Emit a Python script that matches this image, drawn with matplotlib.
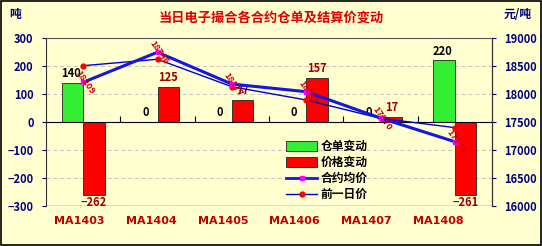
import matplotlib
matplotlib.use("Agg")
import matplotlib.pyplot as plt
import numpy as np
from matplotlib.patches import Rectangle
from matplotlib.lines import Line2D
from matplotlib.patches import Patch
import matplotlib.transforms as mtransforms

plt.rcParams['font.family'] = ['Noto Sans CJK SC', 'DejaVu Sans']

categories = ["MA1403", "MA1404", "MA1405", "MA1406", "MA1407", "MA1408"]
warrant_change = [140, 0, 0, 0, 0, 220]
price_change = [-262, 125, 77, 157, 17, -261]
avg_price = [18209, 18746, 18177, 18041, 17570, 17148]
prev_price = [18505, 18620, 18130, 17893, 17566, 17399]

title = "当日电子撮合各合约仓单及结算价变动"
bg = "#FFFFD0"
navy = "#000080"

fig = plt.figure(figsize=(5.42, 2.46), dpi=100, facecolor=bg)
fig.patches.append(Rectangle((0.002, 0.004), 0.996, 0.992, transform=fig.transFigure,
                             fill=False, edgecolor="black", linewidth=1.2))
ax = fig.add_axes([0.0849, 0.1626, 0.8229, 0.683])
ax.set_facecolor(bg)
x = np.arange(len(categories))
w = 0.29

ax.bar(x - w / 2, warrant_change, w, color="#33EE33", edgecolor="#222222", linewidth=0.6, zorder=2)
ax.bar(x + w / 2, price_change, w, color="#FF0000", edgecolor="#222222", linewidth=0.6, zorder=2)

ax.set_xlim(-0.5, 5.5)
ax.set_ylim(-300, 300)
ax.set_yticks(np.arange(-300, 301, 100))
ax.set_yticklabels([str(v).replace("-", "\u2212") for v in range(-300, 301, 100)])
ax.yaxis.grid(True, linestyle=(0, (4, 3)), color="#C4C4C4", linewidth=0.7)
ax.set_axisbelow(True)
ax.tick_params(axis="y", colors=navy, labelsize=8, length=3, pad=6)
for t in ax.get_yticklabels():
    t.set_fontweight("bold")
    t.set_color(navy)

ax.spines["bottom"].set_position(("data", 0))
ax.spines["bottom"].set_zorder(4)
ax.set_xticks(np.arange(0.5, 5.0, 1.0))
ax.set_xticklabels([])
ax.tick_params(axis="x", direction="in", length=4, width=0.8)
ax.spines["top"].set_color("#555555")
ax.spines["left"].set_color("#333333")

ax.axhline(-300, color="#555555", linewidth=1.0, zorder=3)

# category labels below the plot
trans = mtransforms.blended_transform_factory(ax.transData, ax.transAxes)
for i, c in enumerate(categories):
    ax.text(i * 0.965 - 0.05, -0.09, c, transform=trans, ha="center", va="center",
            color="#C00000", fontsize=8, fontweight="bold", family=["DejaVu Sans"])

# bar labels
for i, v in enumerate(warrant_change):
    ax.text(i - w / 2 - 0.02, v + 10, str(v), ha="center", va="bottom", fontsize=8,
            fontweight="bold", color="black", zorder=5)
for i, v in enumerate(price_change):
    if v >= 0:
        ax.text(i + w / 2, v + 12, str(v), ha="center", va="bottom", fontsize=8,
                fontweight="bold", color="#990000", zorder=5)
    else:
        ax.text(i + w / 2, v - 4, str(v).replace("-", "\u2212"), ha="center", va="top",
                fontsize=8, fontweight="bold", color="#990000", zorder=5)

ax2 = ax.twinx()
ax2.set_ylim(16000, 19000)
ax2.set_yticks(np.arange(16000, 19001, 500))
ax2.tick_params(axis="y", colors=navy, labelsize=8, length=3, pad=6)
for t in ax2.get_yticklabels():
    t.set_fontweight("bold")
ax2.spines["right"].set_color("#333333")
ax2.spines["top"].set_visible(False)
ax2.spines["bottom"].set_visible(False)
ax2.spines["left"].set_visible(False)

ax2.plot(x, prev_price, color="#0000CC", linewidth=1.0, marker="o", markersize=3.5,
         markerfacecolor="#FF0000", markeredgecolor="#FF0000", zorder=3)
ax2.plot(x, avg_price, color="#1515E6", linewidth=2.2, marker="s", markersize=3.5,
         markerfacecolor="#FF00FF", markeredgecolor="#FF00FF", zorder=4)
for i, v in enumerate(avg_price):
    ax2.text(i + 0.02, v - 5, str(v), rotation=-55, ha="center", va="center",
             fontsize=6.5, fontweight="bold", color="#CC0000", fontstyle="italic", zorder=6)

handles = [Patch(facecolor="#33EE33", edgecolor="#222222", linewidth=0.6),
           Patch(facecolor="#FF0000", edgecolor="#222222", linewidth=0.6),
           Line2D([], [], color="#1515E6", linewidth=2, marker="s", markersize=3.5,
                  markerfacecolor="#FF00FF", markeredgecolor="#FF00FF"),
           Line2D([], [], color="#0000CC", linewidth=1, marker="o", markersize=3.5,
                  markerfacecolor="#FF0000", markeredgecolor="#FF0000")]
labels = ["仓单变动", "价格变动", "合约均价", "前一日价"]
leg = ax2.legend(handles, labels, loc="lower left", bbox_to_anchor=(0.52, -0.02),
                 frameon=False, fontsize=8.5, handlelength=2.6, handleheight=0.9,
                 labelspacing=0.25, borderpad=0.2, handletextpad=0.3)
for t in leg.get_texts():
    t.set_fontweight("bold")

fig.text(0.5, 0.93, title, ha="center", va="center", color="#E00000", fontsize=9.5,
         fontweight="bold")
fig.text(0.028, 0.94, "吨", ha="center", va="center", color=navy, fontsize=8.5, fontweight="bold")
fig.text(0.955, 0.94, "元/吨", ha="center", va="center", color=navy, fontsize=8.5, fontweight="bold")

fig.savefig("out.png", dpi=100, facecolor=bg)
